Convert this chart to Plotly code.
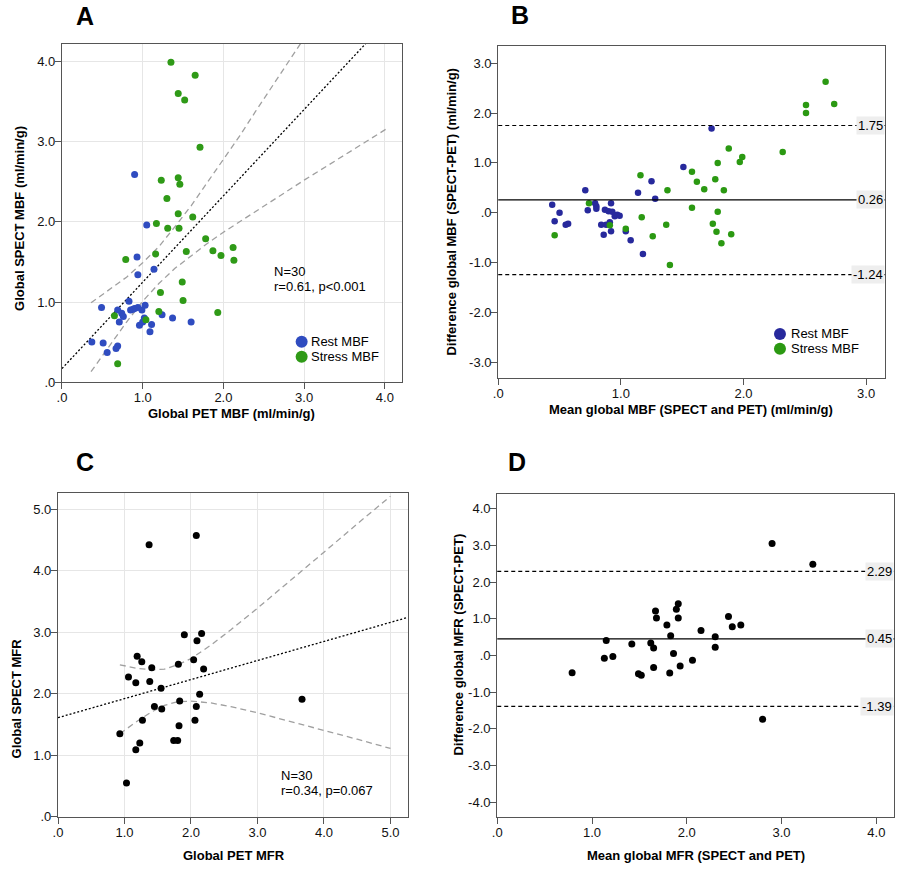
import plotly.graph_objects as go

W, H = 900, 874
FONT = "Liberation Sans, Arial, sans-serif"

# ---- panel A: global MBF, SPECT vs PET ----
rest_pet_a = [0.90, 1.05, 0.93, 1.14, 0.94, 0.49, 0.83, 0.69, 0.74, 0.76, 0.71, 0.85, 0.90, 0.94, 0.99,
              1.03, 1.02, 0.96, 1.11, 1.09, 1.24, 1.37, 1.60, 0.37, 0.51, 0.56, 0.69, 0.67, 1.00, 0.88]
rest_spect_a = [2.59, 1.96, 1.56, 1.41, 1.34, 0.93, 1.01, 0.90, 0.86, 0.82, 0.75, 0.90, 0.92, 0.93, 0.90,
                0.96, 0.80, 0.71, 0.72, 0.63, 0.84, 0.80, 0.75, 0.50, 0.49, 0.37, 0.45, 0.42, 0.75, 0.91]
stress_pet_a = [1.35, 1.65, 1.44, 1.52, 1.71, 1.23, 1.44, 1.46, 1.30, 1.44, 1.62, 1.17, 1.31, 1.45, 1.78,
                1.87, 2.12, 1.97, 2.13, 0.79, 1.16, 1.54, 1.49, 1.22, 1.50, 1.93, 1.20, 0.65, 1.04, 0.69]
stress_spect_a = [3.99, 3.83, 3.60, 3.52, 2.93, 2.52, 2.55, 2.47, 2.29, 2.10, 2.06, 1.98, 1.92, 1.92, 1.79,
                  1.64, 1.68, 1.58, 1.52, 1.53, 1.60, 1.63, 1.25, 1.12, 1.02, 0.87, 0.88, 0.83, 0.78, 0.23]
fit_a_x = [0.0, 3.76]
fit_a_y = [0.17, 4.22]
ci_a_x = [0.36, 0.6, 0.8, 1.0, 1.2, 1.4, 1.6, 1.8, 2.0, 2.2, 2.4, 2.6, 2.8, 3.0, 3.4, 3.8, 4.02]
ci_a_up = [0.99, 1.16, 1.31, 1.49, 1.69, 1.94, 2.20, 2.49, 2.78, 3.07, 3.38, 3.68, 3.98, 4.28, 4.89, 5.51, 5.84]
ci_a_lo = [0.13, 0.47, 0.75, 1.01, 1.23, 1.42, 1.58, 1.73, 1.87, 2.00, 2.14, 2.26, 2.39, 2.52, 2.77, 3.02, 3.16]

# ---- panel B: Bland-Altman MBF ----
rest_mean_b = [1.74, 1.51, 1.25, 1.14, 1.28, 0.71, 0.44, 0.50, 0.46, 0.55, 0.57, 0.73, 0.79, 0.80, 0.80,
               0.87, 0.90, 0.92, 0.93, 0.95, 0.97, 0.99, 0.84, 0.88, 0.91, 0.92, 0.86, 1.04, 1.08, 1.18]
rest_diff_b = [1.69, 0.92, 0.63, 0.40, 0.28, 0.45, 0.16, 0.00, -0.17, -0.24, -0.22, 0.05, 0.19, 0.13, 0.08,
               0.06, 0.03, 0.19, 0.02, -0.07, -0.04, -0.06, -0.24, -0.24, -0.19, -0.37, -0.44, -0.37, -0.55, -0.83]
stress_mean_b = [2.67, 2.51, 2.74, 2.51, 2.32, 1.88, 1.79, 1.97, 1.99, 1.16, 1.58, 1.62, 1.77, 1.68, 1.84,
                 1.38, 1.58, 1.79, 1.17, 1.37, 1.75, 1.78, 1.90, 1.82, 1.26, 1.04, 0.91, 0.74, 0.46, 1.40]
stress_diff_b = [2.63, 2.16, 2.18, 2.00, 1.22, 1.29, 1.00, 1.02, 1.12, 0.75, 0.82, 0.62, 0.67, 0.47, 0.45,
                 0.45, 0.10, 0.02, -0.09, -0.24, -0.22, -0.38, -0.43, -0.61, -0.47, -0.32, -0.25, 0.19, -0.45, -1.05]
loa_b = [1.75, 0.26, -1.24]

# ---- panel C: global MFR, SPECT vs PET ----
pet_mfr = [1.37, 2.08, 1.90, 2.16, 2.09, 1.19, 1.26, 2.04, 1.41, 1.81, 2.19, 1.06, 1.17, 1.38, 1.55,
           2.13, 1.83, 1.45, 1.56, 2.08, 1.27, 2.06, 1.82, 0.93, 1.74, 1.80, 1.23, 1.17, 1.03, 3.67]
spect_mfr = [4.42, 4.57, 2.96, 2.98, 2.86, 2.61, 2.52, 2.55, 2.42, 2.48, 2.40, 2.27, 2.18, 2.20, 2.09,
             1.99, 1.88, 1.79, 1.75, 1.79, 1.57, 1.57, 1.48, 1.35, 1.24, 1.24, 1.20, 1.09, 0.55, 1.91]
fit_c_x = [0.0, 5.26]
fit_c_y = [1.61, 3.24]
ci_c_x = [0.93, 1.2, 1.4, 1.6, 1.8, 2.0, 2.3, 2.6, 3.0, 3.5, 4.0, 4.5, 5.0]
ci_c_up = [2.47, 2.41, 2.39, 2.40, 2.47, 2.57, 2.79, 3.04, 3.39, 3.84, 4.30, 4.76, 5.21]
ci_c_lo = [1.35, 1.56, 1.70, 1.81, 1.87, 1.88, 1.85, 1.79, 1.69, 1.55, 1.40, 1.26, 1.11]

# ---- panel D: Bland-Altman MFR ----
mean_mfr = [2.90, 3.33, 2.80, 1.91, 1.89, 1.67, 1.68, 1.91, 2.44, 1.79, 2.48, 2.57, 2.15, 1.83, 2.30,
            1.15, 1.62, 1.42, 1.65, 2.30, 1.86, 1.22, 1.13, 2.06, 1.93, 1.65, 0.79, 1.49, 1.52, 1.82]
diff_mfr = [3.05, 2.49, -1.74, 1.41, 1.26, 1.21, 1.02, 1.02, 1.06, 0.83, 0.78, 0.83, 0.68, 0.54, 0.51,
            0.41, 0.34, 0.31, 0.20, 0.22, 0.05, -0.03, -0.08, -0.13, -0.29, -0.33, -0.47, -0.50, -0.54, -0.48]
loa_d = [2.29, 0.45, -1.39]

BLUE_A, GREEN_A = "#2f4cc0", "#2f9a17"
BLUE_B, GREEN_B = "#27299c", "#2b9912"


def px_x(px):
    return px / W


def px_y(py):
    return 1 - py / H


def spss(v):
    s = f"{v:.1f}"
    return s.replace("0.", ".", 1) if abs(v) < 1 else s


def axis(dom, rng, ticks, grid, anchor):
    return dict(domain=dom, range=rng, tickvals=ticks, ticktext=[spss(t) for t in ticks],
                showgrid=grid, gridcolor="#e6e6e6", gridwidth=1, zeroline=False,
                showline=True, mirror=True, linecolor="#555555", linewidth=1.3,
                ticks="outside", ticklen=6, tickcolor="#555555", tickwidth=1,
                ticklabelstandoff=-3,
                tickfont=dict(size=13, color="#111111", family=FONT), anchor=anchor)


fig = go.Figure()

# A
fig.add_trace(go.Scatter(x=ci_a_x, y=ci_a_up, mode="lines", line=dict(color="#a0a0a0", width=1.3, dash="6px,4px"),
                         xaxis="x", yaxis="y", showlegend=False))
fig.add_trace(go.Scatter(x=ci_a_x, y=ci_a_lo, mode="lines", line=dict(color="#a0a0a0", width=1.3, dash="6px,4px"),
                         xaxis="x", yaxis="y", showlegend=False))
fig.add_trace(go.Scatter(x=fit_a_x, y=fit_a_y, mode="lines", line=dict(color="black", width=1.3, dash="2px,2px"),
                         xaxis="x", yaxis="y", showlegend=False))
fig.add_trace(go.Scatter(x=rest_pet_a, y=rest_spect_a, mode="markers", name="Rest MBF",
                         marker=dict(color=BLUE_A, size=7), xaxis="x", yaxis="y", showlegend=False))
fig.add_trace(go.Scatter(x=stress_pet_a, y=stress_spect_a, mode="markers", name="Stress MBF",
                         marker=dict(color=GREEN_A, size=7), xaxis="x", yaxis="y", showlegend=False))

# B
fig.add_trace(go.Scatter(x=rest_mean_b, y=rest_diff_b, mode="markers", name="Rest MBF",
                         marker=dict(color=BLUE_B, size=6.5), xaxis="x2", yaxis="y2", showlegend=False))
fig.add_trace(go.Scatter(x=stress_mean_b, y=stress_diff_b, mode="markers", name="Stress MBF",
                         marker=dict(color=GREEN_B, size=6.5), xaxis="x2", yaxis="y2", showlegend=False))

# C
fig.add_trace(go.Scatter(x=ci_c_x, y=ci_c_up, mode="lines", line=dict(color="#a0a0a0", width=1.3, dash="6px,4px"),
                         xaxis="x3", yaxis="y3", showlegend=False))
fig.add_trace(go.Scatter(x=ci_c_x, y=ci_c_lo, mode="lines", line=dict(color="#a0a0a0", width=1.3, dash="6px,4px"),
                         xaxis="x3", yaxis="y3", showlegend=False))
fig.add_trace(go.Scatter(x=fit_c_x, y=fit_c_y, mode="lines", line=dict(color="black", width=1.3, dash="2px,2px"),
                         xaxis="x3", yaxis="y3", showlegend=False))
fig.add_trace(go.Scatter(x=pet_mfr, y=spect_mfr, mode="markers", marker=dict(color="black", size=7),
                         xaxis="x3", yaxis="y3", showlegend=False))

# D
fig.add_trace(go.Scatter(x=mean_mfr, y=diff_mfr, mode="markers", marker=dict(color="black", size=7),
                         xaxis="x4", yaxis="y4", showlegend=False))

shapes = []
annotations = []


def ann(text, px, py, size=13, bold=False, xanchor="left", yanchor="middle", angle=0):
    annotations.append(dict(text=f"<b>{text}</b>" if bold else text, x=px_x(px), y=px_y(py),
                            xref="paper", yref="paper", showarrow=False, xanchor=xanchor,
                            yanchor=yanchor, textangle=angle,
                            font=dict(size=size, color="black", family=FONT)))


# limits of agreement lines + labels
for ax, vals in (("2", loa_b), ("4", loa_d)):
    for i, v in enumerate(vals):
        shapes.append(dict(type="line", xref=f"x{ax} domain", yref=f"y{ax}", x0=0, x1=1, y0=v, y1=v,
                           line=dict(color="black", width=1.2, dash="solid" if i == 1 else "4px,3px")))
        annotations.append(dict(text=f"{v:.2f}", xref=f"x{ax} domain", yref=f"y{ax}", x=1, y=v,
                                xanchor="right", yanchor="middle", showarrow=False,
                                bgcolor="#eeeeee", borderpad=1,
                                font=dict(size=13, color="black", family=FONT)))

# legends for A and B (drawn as keys + text)
for cx, cy, tx, colors in ((298.3, 345, 306, (BLUE_A, GREEN_A)), (779.3, 337, 788, (BLUE_B, GREEN_B))):
    for k, (lab, col) in enumerate(zip(["Rest MBF", "Stress MBF"], colors)):
        yy = cy + 15 * k
        shapes.append(dict(type="circle", xref="paper", yref="paper", xsizemode="pixel", ysizemode="pixel",
                           xanchor=px_x(cx), yanchor=px_y(yy), x0=-6, x1=6, y0=-6, y1=6,
                           fillcolor=col, line=dict(width=0)))
        ann(lab, tx, yy, size=13)

# panel letters
ann("A", 80, 16, size=25, bold=True, xanchor="center")
ann("B", 518, 15, size=25, bold=True, xanchor="center")
ann("C", 80, 466, size=25, bold=True, xanchor="center")
ann("D", 515, 466, size=25, bold=True, xanchor="center")

# axis titles
ann("Global PET MBF (ml/min/g)", 228, 417, bold=True, xanchor="center")
ann("Global SPECT MBF (ml/min/g)", 15, 220, bold=True, xanchor="center", angle=-90)
ann("Mean global MBF (SPECT and PET) (ml/min/g)", 690, 413, bold=True, xanchor="center")
ann("Difference global MBF (SPECT-PET) (ml/min/g)", 449, 214, bold=True, xanchor="center", angle=-90)
ann("Global PET MFR", 230, 863, bold=True, xanchor="center")
ann("Global SPECT MFR", 12, 705, bold=True, xanchor="center", angle=-90)
ann("Mean global MFR (SPECT and PET)", 695, 863, bold=True, xanchor="center")
ann("Difference global MFR (SPECT-PET)", 456, 650, bold=True, xanchor="center", angle=-90)

# stats text
ann("N=30", 268, 274)
ann("r=0.61, p<0.001", 268, 289)
ann("N=30", 276, 783)
ann("r=0.34, p=0.067", 276, 798)

fig.update_layout(
    width=W, height=H, margin=dict(l=0, r=0, t=0, b=0),
    paper_bgcolor="white", plot_bgcolor="white", showlegend=False,
    font=dict(family=FONT, color="black"),
    xaxis=axis([px_x(57.3), px_x(399)], [0, 4.21], [0, 1, 2, 3, 4], True, "y"),
    yaxis=axis([px_y(385.7), px_y(44.3)], [0, 4.22], [0, 1, 2, 3, 4], True, "x"),
    xaxis2=axis([px_x(496), px_x(885)], [0, 3.155], [0, 1, 2, 3], False, "y2"),
    yaxis2=axis([px_y(381.7), px_y(46.7)], [-3.32, 3.34], [-3, -2, -1, 0, 1, 2, 3], False, "x2"),
    xaxis3=axis([px_x(53.3), px_x(405)], [0, 5.26], [0, 1, 2, 3, 4, 5], True, "y3"),
    yaxis3=axis([px_y(824.3), px_y(497.7)], [0, 5.26], [0, 1, 2, 3, 4, 5], True, "x3"),
    xaxis4=axis([px_x(495), px_x(894.3)], [0, 4.19], [0, 1, 2, 3, 4], False, "y4"),
    yaxis4=axis([px_y(824.3), px_y(498.3)], [-4.40, 4.41], [-4, -3, -2, -1, 0, 1, 2, 3, 4], False, "x4"),
    shapes=shapes, annotations=annotations,
)

# the page body has a default 8px margin; drop it so the figure sits at the window's corner
fig.write_html("out.html", config={"displayModeBar": False},
               post_script="document.body.style.margin='0';")
